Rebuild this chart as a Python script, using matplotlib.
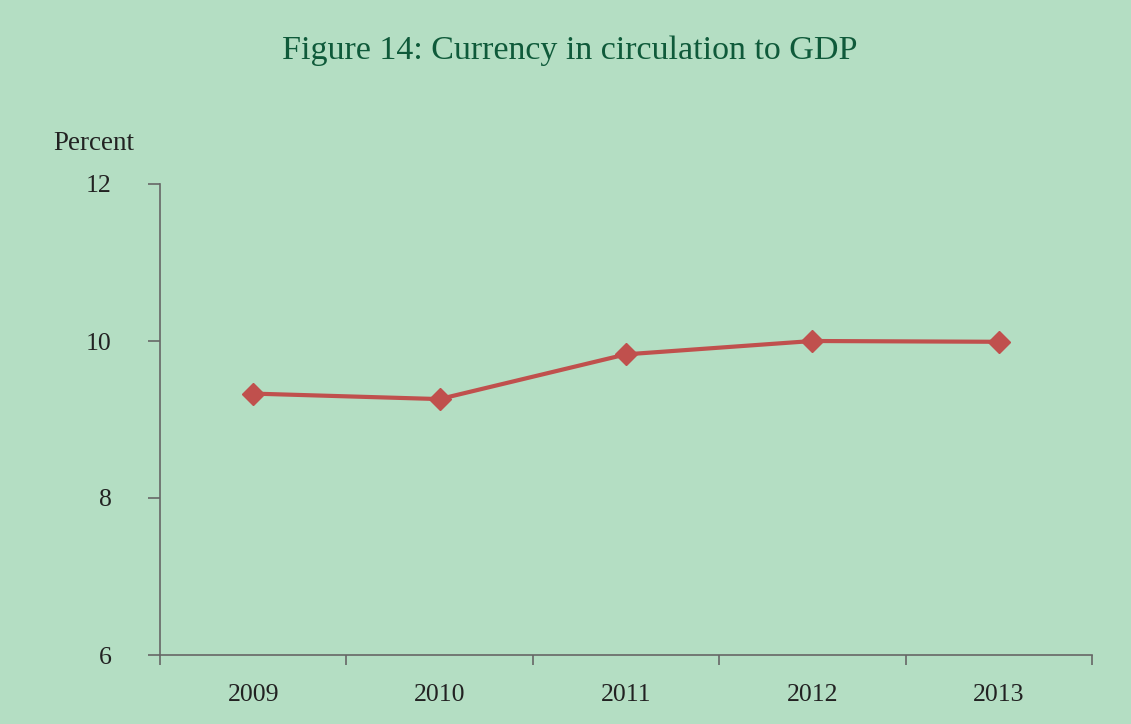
import matplotlib
matplotlib.use("Agg")
import matplotlib.pyplot as plt

years = ["2009", "2010", "2011", "2012", "2013"]
currency_to_gdp = [9.33, 9.26, 9.83, 10.0, 9.99]
y_ticks = [6, 8, 10, 12]

bg = "#b4dec3"
axis_col = "#666666"
plt.rcParams["font.family"] = ["Liberation Serif", "DejaVu Serif"]

fig = plt.figure(figsize=(11.31, 7.24), dpi=100, facecolor=bg)
ax = fig.add_axes([160 / 1131, 69 / 724, 932 / 1131, 471 / 724], facecolor=bg)

x = list(range(len(years)))
ax.plot(x, currency_to_gdp, color="#c0504d", linewidth=3, marker="D",
        markersize=11, markeredgecolor="#c0504d", zorder=3)

ax.set_xlim(-0.5, len(years) - 0.5)
ax.set_ylim(6, 12)
ax.set_yticks(y_ticks)
ax.set_yticklabels([str(v) for v in y_ticks])
ax.set_xticks(x)
ax.set_xticklabels(years)
ax.set_xticks([i - 0.5 for i in range(len(years) + 1)], minor=True)
ax.tick_params(axis="x", which="major", length=0, pad=21, labelsize=18.5, labelcolor="#222222")
ax.tick_params(axis="x", which="minor", length=7, width=1.2, color=axis_col)
ax.tick_params(axis="y", length=9, width=1.2, color=axis_col, pad=26, labelsize=18.5, labelcolor="#222222")

for s in ["top", "right"]:
    ax.spines[s].set_visible(False)
for s in ["left", "bottom"]:
    ax.spines[s].set_color(axis_col)
    ax.spines[s].set_linewidth(1.2)

fig.text(94 / 1131, 1 - 144 / 724, "Percent", ha="center", va="center", fontsize=19.5, color="#222222")
fig.text(570 / 1131, 1 - 51 / 724, "Figure 14: Currency in circulation to GDP", ha="center",
         va="center", fontsize=24.5, color="#0f5a3a")

fig.savefig("out.png", dpi=100, facecolor=bg)
